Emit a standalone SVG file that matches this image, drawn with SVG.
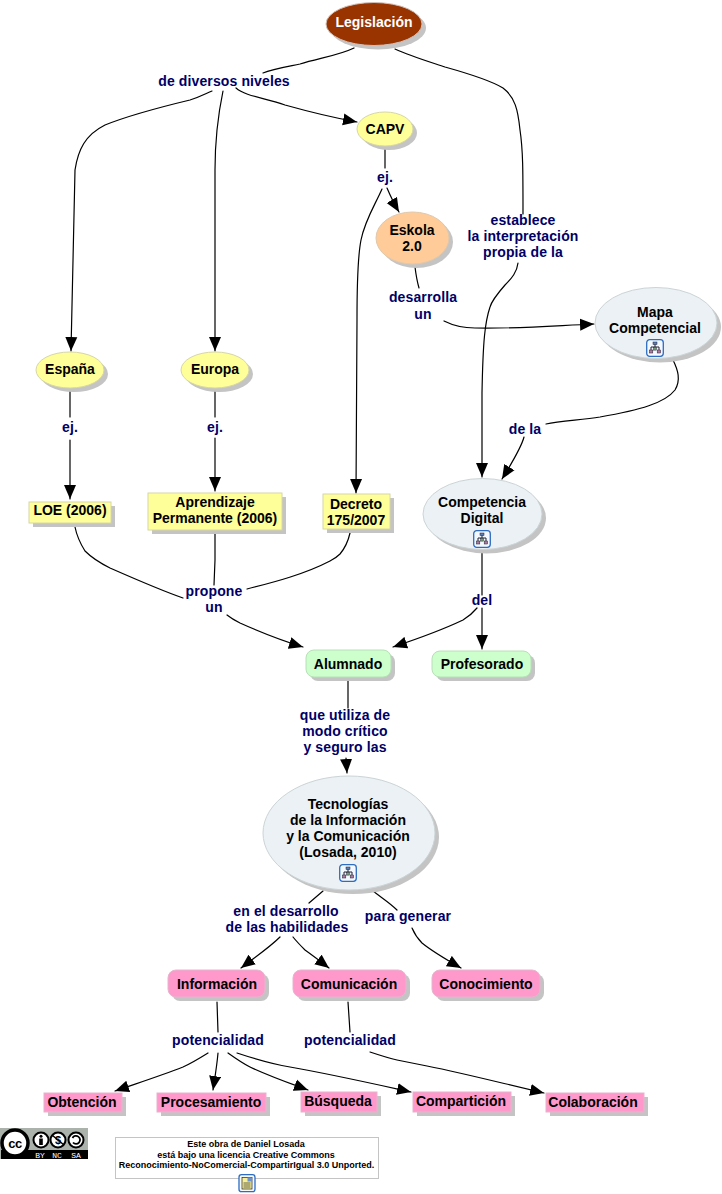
<svg xmlns="http://www.w3.org/2000/svg" width="722" height="1194" viewBox="0 0 722 1194">
<style>
text{font-family:"Liberation Sans",Arial,sans-serif;font-weight:bold;font-size:14px;text-anchor:middle;fill:#000}
.lb text,text.lb{fill:#000066;letter-spacing:.12px}
.w{fill:#fff}
.c path{fill:none;stroke:#000;stroke-width:1.2;stroke-linecap:round}
.a{marker-end:url(#arr)}
.sh{fill:#c4c4c4}
.y{fill:#ffff99;stroke:#d6d6a8;stroke-width:1}
.o{fill:#ffcc99;stroke:#e0c8ac;stroke-width:1}
.b{fill:#ebf1f4;stroke:#ccd4d6;stroke-width:1}
.g{fill:#ccffcc;stroke:#b8e0b8;stroke-width:1}
.p{fill:#ff99cc;stroke:#e6b4cc;stroke-width:1}
.n{fill:#993300;stroke:#d0c0b8;stroke-width:1}
</style>
<defs>
<marker id="arr" markerUnits="userSpaceOnUse" markerWidth="15" markerHeight="13" refX="14" refY="6.500" orient="auto"><path d="M0,0.500 L14,6.500 L0,12.500 Z" fill="#000"/></marker>
<symbol id="ico" viewBox="0 0 18 18">
<rect x=".7" y=".7" width="16.600" height="16.600" rx="3" fill="#f4f8ff" stroke="#2d6cc0" stroke-width="1.300"/>
<path d="M9 5V8M5 11V8H13V11" fill="none" stroke="#223" stroke-width="1"/>
<rect x="7" y="3" width="4" height="2.500" fill="#5a7fb8" stroke="#223" stroke-width=".5"/>
<rect x="3.400" y="11" width="3.400" height="3" fill="#b07aa0" stroke="#223" stroke-width=".5"/>
<rect x="11.200" y="11" width="3.400" height="3" fill="#b07aa0" stroke="#223" stroke-width=".5"/>
<rect x="7.700" y="8.500" width="2.600" height="2.600" fill="#70a070" stroke="#223" stroke-width=".5"/>
</symbol>
</defs>
<rect width="722" height="1194" fill="#fff"/>
<g id="connectors" class="c">
<path d="M354,48 C340,55 320,58 300,64 C285,67 272,69 263,73"/>
<path class="a" d="M212,91 C205,94 200,97 190,100 C165,106 130,115 105,125 C85,135 78,150 75,170 L71,351"/>
<path class="a" d="M223,91 C218,115 215,140 215,170 L215,351"/>
<path class="a" d="M236,88 C245,96 265,98 285,105 C310,112 330,117 357,122"/>
<path d="M395,49 C410,56 430,62 445,67 C470,74 490,80 503,88 C515,97 518,110 520,130 C523,150 523,170 523,214"/>
<path class="a" d="M518,263 C517,272 512,278 505,285 C498,293 492,300 490,307 C485,322 483,340 482,393 L482,477"/>
<path d="M385,149 L385,168"/>
<path class="a" d="M387,188 C390,195 393,202 399,212"/>
<path class="a" d="M382,189 C375,205 365,220 361,240 C358,255 357,280 357,320 L356,493"/>
<path d="M415,267 C416,275 417,281 419,288"/>
<path class="a" d="M444,321 C452,325 460,328 475,328 C510,329 550,326 594,324"/>
<path d="M673,360 C678,370 681,380 675,390 C665,403 640,410 600,417 C580,420 560,421 546,424"/>
<path class="a" d="M524,437 C522,445 515,458 502,479"/>
<path d="M70,390 L70,417"/>
<path class="a" d="M70,440 L70,499"/>
<path d="M215,390 L215,417"/>
<path class="a" d="M215,438 L215,491"/>
<path d="M75,527 C77,537 80,543 85,551 C92,558 100,563 110,568 C135,579 160,590 183,598"/>
<path d="M215,534 L215,560 L214,585"/>
<path d="M350,533 C348,542 345,548 340,554 C336,558 334,559 330,561 C305,574 275,582 247,589"/>
<path class="a" d="M227,615 C232,619 236,621 240,623 C260,632 280,640 303,647"/>
<path d="M482,553 L482,595"/>
<path class="a" d="M482,608 L482,649"/>
<path class="a" d="M477,608 C472,614 468,617 463,620 C442,630 420,638 393,647"/>
<path d="M348,681 L348,708"/>
<path class="a" d="M346,758 L347,773"/>
<path d="M323,891 L309,903"/>
<path d="M373,891 C382,898 390,903 397,910"/>
<path class="a" d="M280,937 C270,947 258,955 241,968"/>
<path class="a" d="M293,937 C297,942 301,946 305,950 C312,955 320,961 329,968"/>
<path class="a" d="M412,928 C415,935 418,939 422,943 C433,952 447,960 461,968"/>
<path d="M217,1002 L218,1032"/>
<path class="a" d="M208,1053 C200,1058 192,1063 183,1067 C160,1076 138,1083 115,1091"/>
<path class="a" d="M218,1053 C217,1065 215,1077 213,1090"/>
<path class="a" d="M228,1053 C235,1058 242,1063 250,1067 C269,1076 289,1083 308,1090"/>
<path class="a" d="M237,1053 C255,1059 272,1064 290,1067 C330,1074 370,1083 411,1092"/>
<path d="M348,1002 L350,1032"/>
<path class="a" d="M370,1052 C379,1055 388,1058 397,1060 C407,1062 417,1064 427,1066 C467,1074 505,1084 544,1093"/>
</g>
<g id="link-labels" class="lb">
<text x="224" y="86">de diversos niveles</text>
<text x="385" y="182">ej.</text>
<text x="523" y="225">establece</text><text x="523" y="241">la interpretación</text><text x="523" y="257">propia de la</text>
<text x="423" y="302">desarrolla</text><text x="423" y="319">un</text>
<text x="525" y="434">de la</text>
<text x="70" y="432">ej.</text>
<text x="215" y="432">ej.</text>
<text x="214" y="596">propone</text><text x="214" y="612">un</text>
<text x="482" y="605">del</text>
<text x="345" y="720">que utiliza de</text><text x="345" y="736">modo crítico</text><text x="345" y="752">y seguro las</text>
<text x="286" y="916">en el desarrollo</text><text x="287" y="932">de las habilidades</text>
<text x="408" y="921">para generar</text>
<text x="218" y="1045">potencialidad</text>
<text x="350" y="1045">potencialidad</text>
</g>
<g id="legislacion"><ellipse class="sh" cx="378" cy="28" rx="48" ry="21.500"/><ellipse class="n" cx="374" cy="24" rx="48" ry="21.500"/><text class="w" x="374" y="27">Legislación</text></g>
<g id="capv"><ellipse class="sh" cx="389" cy="133" rx="28" ry="17"/><ellipse class="y" cx="385" cy="129" rx="28" ry="17"/><text x="385" y="134">CAPV</text></g>
<g id="eskola"><ellipse class="sh" cx="416.500" cy="242" rx="36.500" ry="26"/><ellipse class="o" cx="412.500" cy="238" rx="36.500" ry="26"/><text x="412" y="235">Eskola</text><text x="412" y="251">2.0</text></g>
<g id="mapa"><ellipse class="sh" cx="660" cy="327" rx="61" ry="35.500"/><ellipse class="b" cx="656" cy="323" rx="61" ry="35.500"/><text x="655" y="317">Mapa</text><text x="655" y="333">Competencial</text><use href="#ico" x="646" y="339" width="18" height="18"/></g>
<g id="espana"><ellipse class="sh" cx="74" cy="374" rx="34" ry="18"/><ellipse class="y" cx="70" cy="370" rx="34" ry="18"/><text x="70" y="374">España</text></g>
<g id="europa"><ellipse class="sh" cx="219" cy="374" rx="34" ry="18"/><ellipse class="y" cx="215" cy="370" rx="34" ry="18"/><text x="215" y="374">Europa</text></g>
<g id="loe"><rect class="sh" x="33" y="506" width="82" height="21"/><rect class="y" x="29" y="502" width="82" height="21"/><text x="70" y="515">LOE (2006)</text></g>
<g id="aprendizaje"><rect class="sh" x="152" y="497" width="134" height="37"/><rect class="y" x="148" y="493" width="134" height="37"/><text x="215" y="507">Aprendizaje</text><text x="215" y="523">Permanente (2006)</text></g>
<g id="decreto"><rect class="sh" x="327" y="498" width="67" height="35"/><rect class="y" x="323" y="494" width="67" height="35"/><text x="356" y="509">Decreto</text><text x="356" y="525">175/2007</text></g>
<g id="competencia"><ellipse class="sh" cx="486.500" cy="518" rx="59.500" ry="35.500"/><ellipse class="b" cx="482.500" cy="514" rx="59.500" ry="35.500"/><text x="482" y="507">Competencia</text><text x="482" y="523">Digital</text><use href="#ico" x="473" y="530" width="18" height="18"/></g>
<g id="alumnado"><rect class="sh" x="310" y="654" width="85" height="27" rx="8"/><rect class="g" x="306" y="650" width="85" height="27" rx="8"/><text x="348" y="669">Alumnado</text></g>
<g id="profesorado"><rect class="sh" x="436" y="655" width="99" height="26" rx="8"/><rect class="g" x="432" y="651" width="99" height="26" rx="8"/><text x="482" y="669">Profesorado</text></g>
<g id="tecnologias"><ellipse class="sh" cx="353" cy="837" rx="86" ry="57"/><ellipse class="b" cx="349" cy="833" rx="86" ry="57"/><text x="348" y="809">Tecnologías</text><text x="348" y="825">de la Información</text><text x="348" y="841">y la Comunicación</text><text x="348" y="857">(Losada, 2010)</text><use href="#ico" x="339" y="864" width="18" height="18"/></g>
<g id="informacion"><rect class="sh" x="172" y="974" width="97" height="27" rx="8"/><rect class="p" x="168" y="970" width="97" height="27" rx="8"/><text x="217" y="989">Información</text></g>
<g id="comunicacion"><rect class="sh" x="297" y="974" width="113" height="27" rx="8"/><rect class="p" x="293" y="970" width="113" height="27" rx="8"/><text x="349" y="989">Comunicación</text></g>
<g id="conocimiento"><rect class="sh" x="436" y="974" width="108" height="27" rx="8"/><rect class="p" x="432" y="970" width="108" height="27" rx="8"/><text x="486" y="989">Conocimiento</text></g>
<g id="obtencion"><rect class="sh" x="48" y="1097" width="78" height="19"/><rect class="p" x="44" y="1093" width="78" height="19"/><text x="82" y="1107">Obtención</text></g>
<g id="procesamiento"><rect class="sh" x="161" y="1097" width="109" height="19"/><rect class="p" x="157" y="1093" width="109" height="19"/><text x="211" y="1107">Procesamiento</text></g>
<g id="busqueda"><rect class="sh" x="305" y="1096" width="76" height="20"/><rect class="p" x="301" y="1092" width="76" height="20"/><text x="338" y="1106">Búsqueda</text></g>
<g id="comparticion"><rect class="sh" x="417" y="1096" width="98" height="20"/><rect class="p" x="413" y="1092" width="98" height="20"/><text x="461" y="1106">Compartición</text></g>
<g id="colaboracion"><rect class="sh" x="550" y="1097" width="98" height="19"/><rect class="p" x="546" y="1093" width="98" height="19"/><text x="593" y="1107">Colaboración</text></g>
<g id="cc-badge">
<rect x="0" y="1128" width="88" height="31" fill="#aab2ab"/>
<rect x="1" y="1150" width="87" height="9" fill="#000"/>
<circle cx="15" cy="1143" r="13" fill="#fff" stroke="#000" stroke-width="3.500"/>
<text x="15" y="1147.500" style="font-size:13px;letter-spacing:-.5px">cc</text>
<circle cx="41" cy="1140" r="7.500" fill="#fff" stroke="#000" stroke-width="2"/>
<circle cx="41" cy="1136.300" r="1.500"/>
<rect x="39.200" y="1138.500" width="3.600" height="6.500"/>
<circle cx="58" cy="1140" r="7.500" fill="#fff" stroke="#000" stroke-width="2"/>
<text x="58" y="1144" style="font-size:11px">$</text>
<path d="M52,1135 L64,1145" stroke="#000" stroke-width="1.500"/>
<circle cx="76" cy="1140" r="7.500" fill="#fff" stroke="#000" stroke-width="2"/>
<path d="M72.500,1138 A4,4 0 1 1 73,1142.500" fill="none" stroke="#000" stroke-width="1.800"/>
<text class="w" x="40" y="1157.500" style="font-family:'Liberation Mono',monospace;font-size:8px;font-weight:normal">BY</text>
<text class="w" x="57" y="1157.500" style="font-family:'Liberation Mono',monospace;font-size:8px;font-weight:normal">NC</text>
<text class="w" x="76" y="1157.500" style="font-family:'Liberation Mono',monospace;font-size:8px;font-weight:normal">SA</text>
</g>
<g id="licencia">
<rect x="115.500" y="1137.500" width="263" height="41" fill="#fff" stroke="#c4c4c4"/>
<text x="246" y="1147" style="font-size:9px">Este obra de Daniel Losada</text>
<text x="246" y="1158" style="font-size:9px">está bajo una licencia Creative Commons</text>
<text x="246.500" y="1168" style="font-size:9px">Reconocimiento-NoComercial-CompartirIgual 3.0 Unported.</text>
<rect x="239" y="1174.700" width="16" height="17" rx="2.500" fill="#f4f8ff" stroke="#2d6cc0" stroke-width="1.300"/>
<rect x="242" y="1177.500" width="10" height="11.500" fill="#f6f09a" stroke="#222" stroke-width=".7"/>
<path d="M243.500,1183 H250.500 M243.500,1185 H250.500 M243.500,1187 H250.500" stroke="#222" stroke-width=".7"/>
<rect x="247.500" y="1177.500" width="4.500" height="4" fill="#6d93c8"/>
</g>
</svg>
